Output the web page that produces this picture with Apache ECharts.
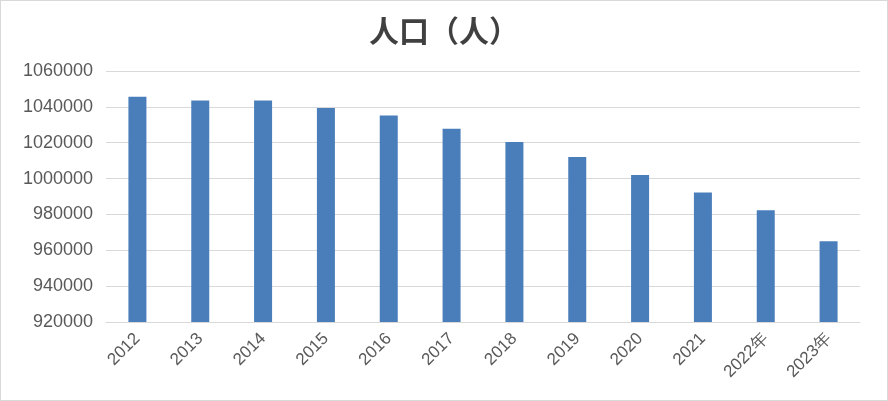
<!DOCTYPE html>
<html><head><meta charset="utf-8">
<script src="https://cdn.jsdelivr.net/npm/echarts@6/dist/echarts.min.js"></script>
<style>html,body{margin:0;padding:0;background:#fff;}#c{width:886px;height:399px;border:1px solid #d9d9d9;}</style>
</head><body><div id="c"></div>
<script>
const categories = ['2012','2013','2014','2015','2016','2017','2018','2019','2020','2021','2022年','2023年'];
const population = [1045600,1043600,1043500,1039400,1035200,1027800,1020400,1012100,1002000,992200,982300,965100];
const yMin = 920000, yMax = 1060000, yStep = 20000;
const chart = echarts.init(document.getElementById('c'));
chart.setOption({
  animation:false,
  title:{text:'人口（人）',left:'center',top:10,textStyle:{fontFamily:'Noto Sans CJK SC',fontSize:30,fontWeight:'bold',color:'#404040'}},
  grid:{left:105,right:27,top:70,bottom:78},
  xAxis:{type:'category',data:categories,
    axisLine:{lineStyle:{color:'#d9d9d9'}},axisTick:{show:false},
    axisLabel:{rotate:45,color:'#595959',fontSize:17,fontFamily:'Liberation Sans',margin:14}},
  yAxis:{type:'value',min:yMin,max:yMax,interval:yStep,
    axisLine:{show:false},axisTick:{show:false},
    splitLine:{lineStyle:{color:'#d9d9d9'}},
    axisLabel:{color:'#595959',fontSize:18,fontFamily:'Liberation Sans',margin:13,formatter:v=>String(v)}},
  series:[{type:'bar',data:population,barWidth:18,itemStyle:{color:'#4a7ebb'}}]
});
</script></body></html>
